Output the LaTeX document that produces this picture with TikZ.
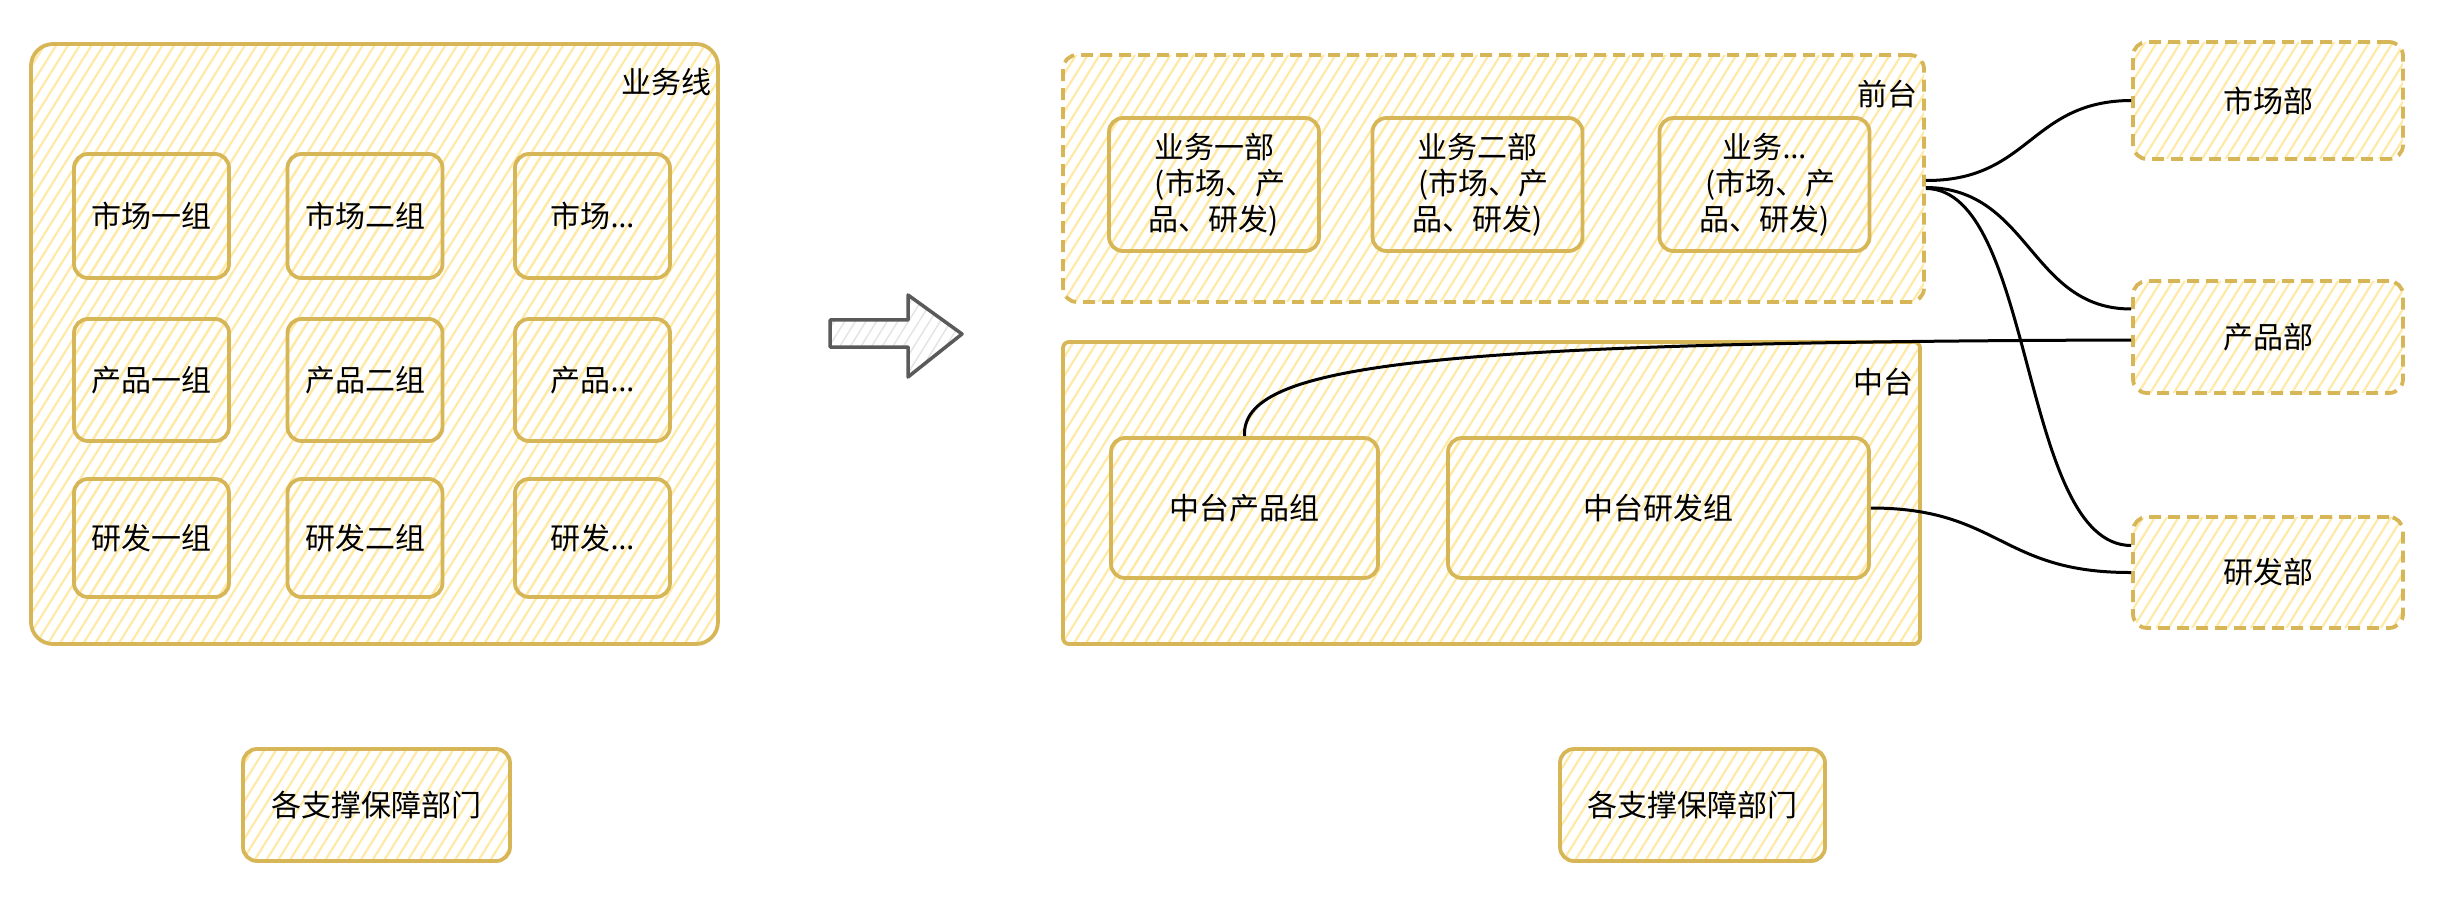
\documentclass[tikz,border=0pt]{standalone}
\usepackage{fontspec}
\newfontfamily\cjk{Noto Sans CJK SC}
\newfontfamily\latinf{Noto Sans}
\usetikzlibrary{patterns.meta}
\definecolor{ystroke}{HTML}{D6B656}
\definecolor{yhatch}{HTML}{FFE9A6}
\definecolor{gstroke}{HTML}{5A5A5A}
\definecolor{ghatch}{HTML}{E4E4E4}
\begin{document}
\begin{tikzpicture}[x=1pt,y=-1pt,
  every node/.style={font=\cjk\fontsize{30}{36}\selectfont, text=black},
  hatchbox/.style={draw=ystroke, line width=3.8pt, rounded corners=14pt,
    pattern={Lines[angle=58,distance=10pt,line width=2.2pt]}, pattern color=yhatch,
    inner sep=0pt, align=center},
  dashbox/.style={hatchbox, dash pattern=on 12pt off 7pt},
  link/.style={draw=black, line width=3pt},
  lbl/.style={anchor=east, inner sep=0pt}
]
\useasboundingbox (0,0) rectangle (2463,909);

% ---------- left: business lines ----------
\node[hatchbox, rounded corners=22pt, minimum width=687pt, minimum height=600pt] (ywx) at (374.5,344) {};
\node[lbl] (ywxl) at (712,82) {业务线};

\node[hatchbox, minimum width=155pt, minimum height=124pt] (sc1) at (151.5,216) {市场一组};
\node[hatchbox, minimum width=155pt, minimum height=124pt] (sc2) at (365,216) {市场二组};
\node[hatchbox, minimum width=155pt, minimum height=124pt] (sc3) at (592.5,216) {市场{\latinf …}};
\node[hatchbox, minimum width=155pt, minimum height=122pt] (cp1) at (151.5,380) {产品一组};
\node[hatchbox, minimum width=155pt, minimum height=122pt] (cp2) at (365,380) {产品二组};
\node[hatchbox, minimum width=155pt, minimum height=122pt] (cp3) at (592.5,380) {产品{\latinf …}};
\node[hatchbox, minimum width=155pt, minimum height=118pt] (yf1) at (151.5,538) {研发一组};
\node[hatchbox, minimum width=155pt, minimum height=118pt] (yf2) at (365,538) {研发二组};
\node[hatchbox, minimum width=155pt, minimum height=118pt] (yf3) at (592.5,538) {研发{\latinf …}};

\node[hatchbox, minimum width=267pt, minimum height=112pt] (zc1) at (376.5,805) {各支撑保障部门};

% ---------- arrow ----------
\draw[gstroke, line width=3.5pt, line join=round,
  pattern={Lines[angle=58,distance=9pt,line width=1.5pt]}, pattern color=ghatch]
  (830,320) -- (908,320) -- (908,295) -- (962,334) -- (908,377) -- (908,347) -- (830,347) -- cycle;

% ---------- right: front / middle platform ----------
\node[dashbox, minimum width=861pt, minimum height=247pt] (qt) at (1493.5,178.5) {};
\node[lbl] (qtl) at (1918,94) {前台};
\node[hatchbox, minimum width=210pt, minimum height=133pt] (yw1) at (1214,184.5) {业务一部\\\hspace{0.4em}(市场、产\\品、研发)};
\node[hatchbox, minimum width=210pt, minimum height=133pt] (yw2) at (1477.5,184.5) {业务二部\\\hspace{0.4em}(市场、产\\品、研发)};
\node[hatchbox, minimum width=210pt, minimum height=133pt] (yw3) at (1764.5,184.5) {业务{\latinf …}\\\hspace{0.4em}(市场、产\\品、研发)};

\node[hatchbox, rounded corners=6pt, minimum width=857pt, minimum height=302pt] (zt) at (1491.5,493) {};
\node[lbl] (ztl) at (1914,382) {中台};
\node[hatchbox, minimum width=267pt, minimum height=140pt] (zcp) at (1244.5,508) {中台产品组};
\node[hatchbox, minimum width=421pt, minimum height=140pt] (zyf) at (1658.5,508) {中台研发组};

\node[hatchbox, minimum width=265pt, minimum height=112pt] (zc2) at (1692.5,805) {各支撑保障部门};

% ---------- right: departments ----------
\node[dashbox, minimum width=270pt, minimum height=117pt] (scb) at (2268,100.5) {市场部};
\node[dashbox, minimum width=270pt, minimum height=112pt] (cpb) at (2268,337) {产品部};
\node[dashbox, minimum width=270pt, minimum height=111pt] (yfb) at (2268,572.5) {研发部};

% ---------- connectors ----------
\draw[link] ([yshift=-2pt]qt.east) .. controls (2030,181) and (2030,101) .. (scb.west);
\draw[link] ([yshift=-9pt]qt.east) .. controls (2030,188) and (2030,309) .. ([yshift=28pt]cpb.west);
\draw[link] ([yshift=-10pt]qt.east) .. controls (2035,189) and (2020,545) .. ([yshift=27pt]yfb.west);
\draw[link] (zcp.north) .. controls (1241,365) and (1420,342) .. ([yshift=-3pt]cpb.west);
\draw[link] (zyf.east) .. controls (2000,508) and (2000,573) .. (yfb.west);
\end{tikzpicture}
\end{document}
